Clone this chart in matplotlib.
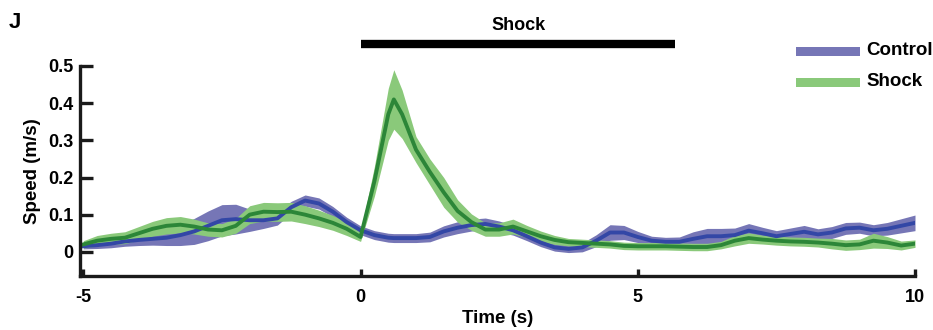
import matplotlib
matplotlib.use("Agg")
import matplotlib.pyplot as plt
from matplotlib.patches import Rectangle
import numpy as np

plt.rcParams['font.family'] = ['Liberation Sans', 'DejaVu Sans']
plt.rcParams['font.weight'] = 'bold'

time_s = [-5.0, -4.75, -4.5, -4.25, -4.0, -3.75, -3.5, -3.25, -3.0, -2.75, -2.5, -2.25,
          -2.0, -1.75, -1.5, -1.25, -1.0, -0.75, -0.5, -0.25, 0.0, 0.25, 0.5, 0.6, 0.75,
          1.0, 1.25, 1.5, 1.75, 2.0, 2.25, 2.5, 2.75, 3.0, 3.25, 3.5, 3.75, 4.0, 4.25,
          4.5, 4.75, 5.0, 5.25, 5.5, 5.75, 6.0, 6.25, 6.5, 6.75, 7.0, 7.25, 7.5, 7.75,
          8.0, 8.25, 8.5, 8.75, 9.0, 9.25, 9.5, 9.75, 10.0]

shock_mean = [0.02, 0.03, 0.035, 0.038, 0.05, 0.062, 0.07, 0.073, 0.068, 0.06, 0.058, 0.07,
              0.1, 0.108, 0.107, 0.108, 0.1, 0.09, 0.078, 0.062, 0.04, 0.19, 0.37, 0.41, 0.37,
              0.275, 0.215, 0.16, 0.11, 0.08, 0.06, 0.06, 0.068, 0.055, 0.042, 0.032, 0.026, 0.024, 0.022,
              0.02, 0.016, 0.015, 0.015, 0.015, 0.014, 0.013, 0.013, 0.018, 0.03, 0.037, 0.033, 0.03, 0.028,
              0.027, 0.025, 0.022, 0.018, 0.02, 0.03, 0.025, 0.017, 0.022]
shock_sem = [0.01, 0.014, 0.015, 0.016, 0.018, 0.02, 0.022, 0.022, 0.02, 0.018, 0.018, 0.02,
             0.024, 0.025, 0.025, 0.025, 0.024, 0.022, 0.02, 0.018, 0.012, 0.04, 0.07, 0.08, 0.065,
             0.035, 0.035, 0.04, 0.03, 0.022, 0.018, 0.018, 0.02, 0.016, 0.014, 0.012, 0.01, 0.01, 0.01,
             0.01, 0.01, 0.01, 0.01, 0.01, 0.01, 0.01, 0.01, 0.01, 0.014, 0.014, 0.012, 0.012, 0.012,
             0.012, 0.012, 0.014, 0.014, 0.014, 0.02, 0.016, 0.012, 0.01]

control_mean = [0.015, 0.018, 0.022, 0.028, 0.032, 0.035, 0.038, 0.045, 0.055, 0.07, 0.085, 0.088,
                0.085, 0.085, 0.09, 0.12, 0.138, 0.13, 0.108, 0.08, 0.058, 0.045, 0.038, 0.037, 0.037,
                0.037, 0.04, 0.055, 0.065, 0.072, 0.075, 0.068, 0.058, 0.042, 0.025, 0.012, 0.008, 0.012, 0.03,
                0.052, 0.052, 0.04, 0.03, 0.027, 0.027, 0.035, 0.042, 0.042, 0.045, 0.057, 0.05, 0.042, 0.048,
                0.054, 0.047, 0.052, 0.063, 0.065, 0.058, 0.062, 0.07, 0.078]
control_sem = [0.007, 0.009, 0.011, 0.013, 0.015, 0.017, 0.021, 0.028, 0.035, 0.04, 0.042, 0.04,
               0.03, 0.022, 0.018, 0.016, 0.015, 0.015, 0.014, 0.013, 0.012, 0.012, 0.012, 0.012, 0.012,
               0.012, 0.013, 0.015, 0.016, 0.016, 0.016, 0.015, 0.013, 0.012, 0.011, 0.01, 0.01, 0.012, 0.016,
               0.021, 0.019, 0.015, 0.012, 0.012, 0.013, 0.019, 0.021, 0.021, 0.019, 0.019, 0.016, 0.015, 0.016,
               0.017, 0.015, 0.016, 0.016, 0.015, 0.015, 0.017, 0.019, 0.021]

x_ticks = [-5, 0, 5, 10]
y_ticks = [0, 0.1, 0.2, 0.3, 0.4, 0.5]
y_ticklabels = ['0', '0.1', '0.2', '0.3', '0.4', '0.5']

t = np.array(time_s)
sm, ss = np.array(shock_mean), np.array(shock_sem)
cm, cs = np.array(control_mean), np.array(control_sem)

band_blue = '#7676b6'
line_blue = '#3347a6'
band_green = '#8ac97a'
line_green = '#2c8638'

fig = plt.figure(figsize=(9.33, 3.3), dpi=100)
ax = fig.add_axes([80/933, 1-276/330, (915-80)/933, (276-66)/330])

ax.fill_between(t, cm - cs, cm + cs, color=band_blue, lw=0)
ax.plot(t, cm, color=line_blue, lw=2.8)
ax.fill_between(t, sm - ss, sm + ss, color=band_green, lw=0)
ax.plot(t, sm, color=line_green, lw=2.8)

ax.set_xlim(-5.06, 10.0)
ax.set_ylim(-0.065, 0.5)
ax.set_xticks(x_ticks)
ax.set_xticklabels([str(v) for v in x_ticks])
ax.set_yticks(y_ticks)
ax.set_yticklabels(y_ticklabels)
for s in ['top', 'right']:
    ax.spines[s].set_visible(False)
for s in ['left', 'bottom']:
    ax.spines[s].set_linewidth(2.4)
    ax.spines[s].set_color('#1a1a1a')
ax.tick_params(axis='y', direction='in', length=9, width=2.4, labelsize=13, pad=5, color='#1a1a1a')
ax.tick_params(axis='x', direction='in', length=5, width=2.4, labelsize=13, pad=9, color='#1a1a1a')
for lab in ax.get_xticklabels() + ax.get_yticklabels():
    lab.set_fontweight('bold')

ax.set_xlabel('Time (s)', fontsize=13.5, fontweight='bold', labelpad=3)
ax.set_ylabel('Speed (m/s)', fontsize=13.5, fontweight='bold', labelpad=5)

# shock bar
ax.plot([0, 5.68], [0.559, 0.559], color='black', lw=6, solid_capstyle='butt', clip_on=False)
ax.text(2.85, 0.61, 'Shock', ha='center', va='center', fontsize=13, fontweight='bold')

# legend
ax.add_patch(Rectangle((7.85, 0.526), 1.16, 0.025, color=band_blue, clip_on=False, lw=0))
ax.add_patch(Rectangle((7.85, 0.443), 1.16, 0.025, color=band_green, clip_on=False, lw=0))
ax.text(9.12, 0.542, 'Control', ha='left', va='center', fontsize=13.5, fontweight='bold')
ax.text(9.12, 0.458, 'Shock', ha='left', va='center', fontsize=13.5, fontweight='bold')

fig.text(9/933, 1-22/330, 'J', fontsize=16, fontweight='bold', va='center', ha='left')

fig.savefig('out.png', dpi=100)
